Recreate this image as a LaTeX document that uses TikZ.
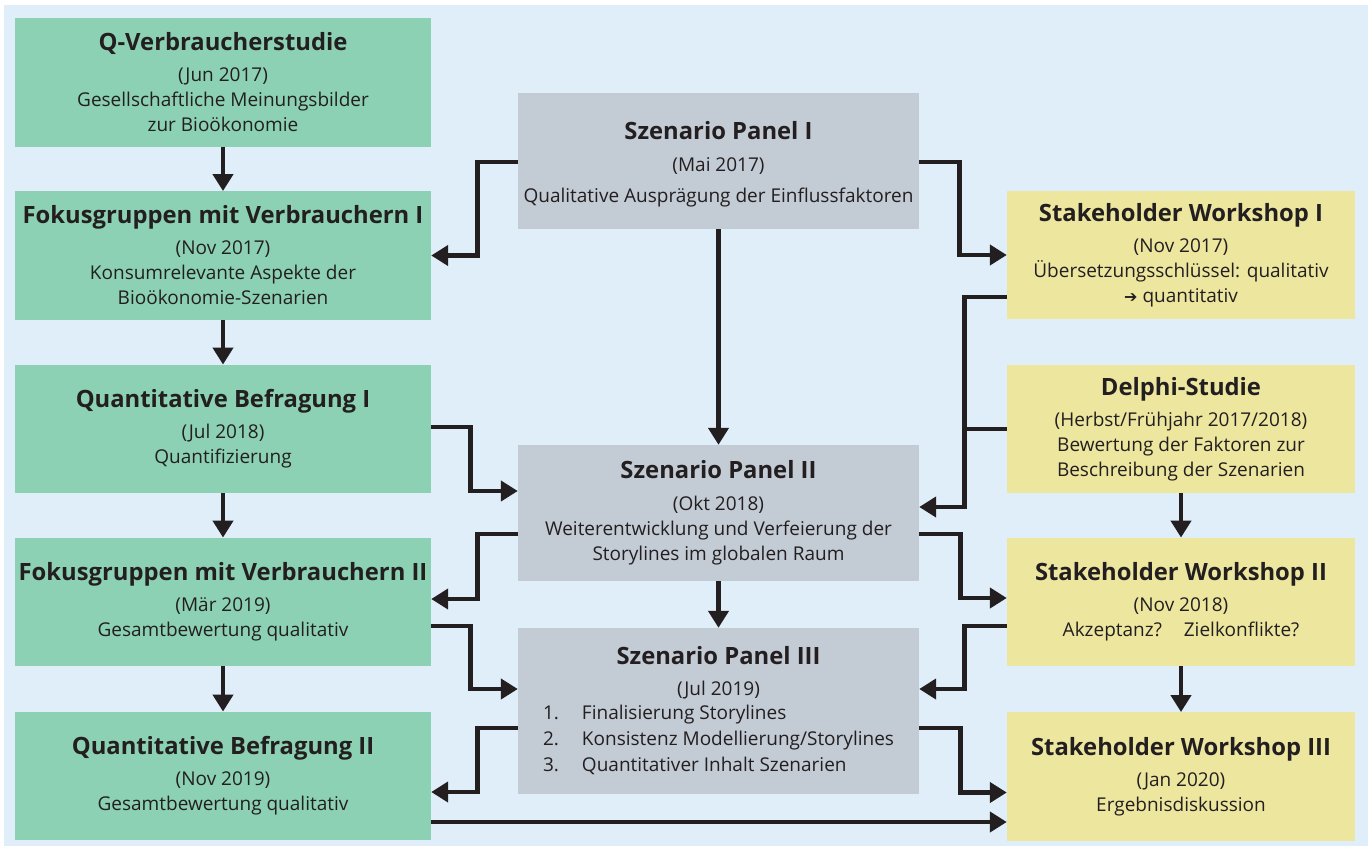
\documentclass[tikz,border=0pt]{standalone}
\usepackage{fontspec}
\setmainfont{Open Sans}
\newfontfamily\symfont{DejaVu Sans}
\usetikzlibrary{arrows.meta,calc}
\definecolor{bgblue}{HTML}{E0EEF9}
\definecolor{grn}{HTML}{8CD1B4}
\definecolor{gry}{HTML}{C3CBD5}
\definecolor{ylw}{HTML}{EDE69F}
\definecolor{ink}{HTML}{231F20}
\newcommand\bodysz{\fontsize{19}{25}\selectfont}
\newcommand\titsz{\fontsize{23.8}{28}\selectfont\bfseries}
\tikzset{
  box/.style={inner sep=0pt, align=center, text=ink, font=\bodysz},
  gbox/.style={box, fill=grn, minimum width=416pt, minimum height=128.5pt},
  pbox/.style={box, fill=gry, minimum width=401pt, minimum height=136pt},
  ybox/.style={box, fill=ylw, minimum width=348pt, minimum height=128.5pt},
  wire/.style={draw=ink, line width=4.8pt},
  arr/.style={wire, -{Triangle[length=17pt,width=20pt]}},
}
\begin{document}
\begin{tikzpicture}[x=1pt,y=-1pt]
\useasboundingbox (0,0) rectangle (1368,846);
\fill[bgblue] (4,5) rectangle (1368,846);
% left column
\node[gbox] (G1) at (223,82.5) {{\titsz Q-Verbraucherstudie}\\[6pt](Jun 2017)\\Gesellschaftliche Meinungsbilder\\zur Bioökonomie};
\node[gbox] (G2) at (223,255.5) {{\titsz Fokusgruppen mit Verbrauchern I}\\[6pt](Nov 2017)\\Konsumrelevante Aspekte der\\Bioökonomie-Szenarien};
\node[gbox] (G3) at (223,429) {{\titsz Quantitative Befragung I}\\[6pt](Jul 2018)\\Quantifizierung};
\node[gbox] (G4) at (223,602) {{\titsz Fokusgruppen mit Verbrauchern II}\\[6pt](Mär 2019)\\Gesamtbewertung qualitativ};
\node[gbox] (G5) at (223,776) {{\titsz Quantitative Befragung II}\\[6pt](Nov 2019)\\Gesamtbewertung qualitativ};
% middle column
\node[pbox] (P1) at (718.5,161) {{\titsz\rule{0pt}{24pt}Szenario Panel I}\\[7pt](Mai 2017)\\[6pt]Qualitative Ausprägung der Einflussfaktoren};
\node[pbox] (P2) at (718.5,513) {{\titsz Szenario Panel II}\\[7pt](Okt 2018)\\Weiterentwicklung und Verfeierung der\\Storylines im globalen Raum};
\node[pbox, minimum height=166pt] (P3) at (718.5,711) {{\titsz\rule{0pt}{22pt}Szenario Panel III}\\[6pt](Jul 2019)\\[2pt]
  \begin{tabular}{@{}l@{}l@{}}
  \makebox[39pt][l]{1.}&Finalisierung Storylines\\[1pt]
  \makebox[39pt][l]{2.}&Konsistenz Modellierung/Storylines\\[1pt]
  \makebox[39pt][l]{3.}&Quantitativer Inhalt Szenarien
  \end{tabular}};
% right column
\node[ybox] (Y1) at (1181,255) {{\titsz Stakeholder Workshop I}\\[6pt](Nov 2017)\\Übersetzungsschlüssel: qualitativ\\{\symfont\fontsize{16}{16}\selectfont ➔}\hspace{5pt}quantitativ};
\node[ybox] (Y2) at (1181,429) {{\titsz Delphi-Studie}\\[6pt](Herbst/Frühjahr 2017/2018)\\Bewertung der Faktoren zur\\Beschreibung der Szenarien};
\node[ybox] (Y3) at (1181,602) {{\titsz Stakeholder Workshop II}\\[6pt](Nov 2018)\\Akzeptanz?\hspace{22pt}Zielkonflikte?};
\node[ybox] (Y4) at (1181,776.5) {{\titsz Stakeholder Workshop III}\\[6pt](Jan 2020)\\Ergebnisdiskussion};
% vertical arrows
\draw[arr] (G1) -- (G2);
\draw[arr] (G2) -- (G3);
\draw[arr] (G3) -- (G4);
\draw[arr] (G4) -- (G5);
\draw[arr] (P1) -- (P2);
\draw[arr] (P2) -- (P3);
\draw[arr] (Y2) -- (Y3);
\draw[arr] (Y3) -- (Y4);
% elbow connectors
\draw[arr] ($(P1.west)+(0,1)$) -- ++(-40,0) |- (G2.east);
\draw[arr] ($(P1.east)+(0,1)$) -- ++(40,0) |- (Y1.west);
\draw[arr] ($(Y1.west)+(0,42)$) -- ++(-42,0) |- ($(P2.east)+(0,-6)$);
\draw[wire] (Y2.west) -- ++(-44.4,0);
\draw[arr] ($(G3.east)+(0,-2)$) -- ++(39,0) |- ($(P2.west)+(0,-22)$);
\draw[arr] ($(P2.west)+(0,21)$) -- ++(-40,0) |- ($(G4.east)+(0,-3)$);
\draw[arr] ($(P2.east)+(0,21)$) -- ++(41,0) |- ($(Y3.west)+(0,-4)$);
\draw[arr] ($(G4.east)+(0,24)$) -- ++(39,0) |- ($(P3.west)+(0,-22)$);
\draw[arr] ($(Y3.west)+(0,24)$) -- ++(-42,0) |- ($(P3.east)+(0,-22)$);
\draw[arr] ($(P3.west)+(0,17)$) -- ++(-40,0) |- ($(G5.east)+(0,16)$);
\draw[arr] ($(P3.east)+(0,17)$) -- ++(41,0) |- ($(Y4.west)+(0,16)$);
\draw[arr] ($(G5.east)+(0,46)$) -- ($(Y4.west)+(0,45.5)$);
\end{tikzpicture}
\end{document}
